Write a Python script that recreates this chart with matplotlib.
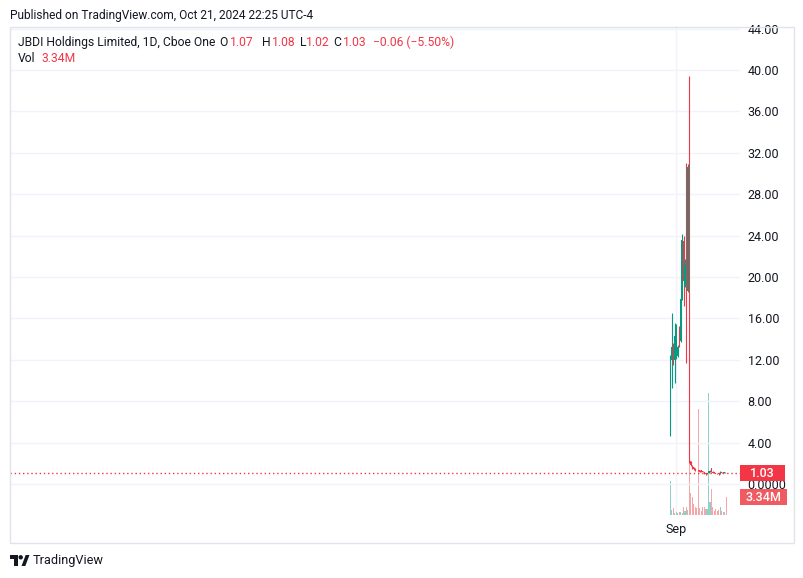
import matplotlib
matplotlib.use("Agg")
import matplotlib.pyplot as plt
from matplotlib.patches import Rectangle, Polygon, Circle
from matplotlib.ticker import FuncFormatter

plt.rcParams['font.family'] = ['Roboto', 'DejaVu Sans']

# ---------------- data (daily bars, Aug 27 - Oct 21, 2024) ----------------
dates = ["08-27", "08-28", "08-29", "08-30", "09-03", "09-04", "09-05", "09-06",
         "09-09", "09-10", "09-11", "09-12", "09-13", "09-16", "09-17", "09-18",
         "09-19", "09-20", "09-23", "09-24", "09-25", "09-26", "09-27", "09-30",
         "10-01", "10-02", "10-03", "10-04", "10-07", "10-08", "10-09", "10-10",
         "10-11", "10-14", "10-15", "10-16", "10-17", "10-18", "10-21"]
opens = [9.3, 12.0, 13.4, 12.0, 12.6, 12.4, 15.0, 13.8, 18.0, 23.5, 19.1, 30.8, 18.6,
         30.5, 2.2, 1.75, 1.6, 1.48, 1.36, 1.35, 1.35, 1.3, 1.22, 1.15, 1.05, 0.97,
         1.06, 1.2, 1.5, 1.2, 1.08, 1.06, 1.05, 1.03, 0.95, 1.12, 1.1, 1.08, 1.07]
highs = [12.5, 16.5, 13.6, 15.6, 15.5, 13.4, 15.3, 18.4, 24.2, 24.0, 21.7, 31.0, 30.9,
         39.4, 2.2, 1.8, 1.62, 1.5, 1.38, 1.36, 1.37, 1.32, 1.25, 1.2, 1.08, 1.1,
         1.29, 1.3, 1.58, 1.22, 1.12, 1.1, 1.08, 1.05, 1.22, 1.15, 1.12, 1.13, 1.08]
lows = [4.65, 9.3, 11.5, 9.8, 12.1, 12.3, 13.2, 13.7, 17.8, 17.2, 19.0, 11.7, 18.5,
        2.0, 1.75, 1.42, 1.35, 1.26, 1.3, 1.23, 1.16, 1.2, 1.12, 1.0, 0.9, 0.95,
        1.04, 1.15, 1.16, 1.05, 1.03, 1.02, 1.0, 0.9, 0.95, 1.05, 1.05, 1.06, 1.02]
closes = [12.4, 13.2, 11.9, 14.3, 13.3, 13.2, 13.5, 17.9, 23.6, 19.6, 21.2, 18.6, 30.6,
          2.25, 1.85, 1.5, 1.4, 1.3, 1.32, 1.25, 1.2, 1.22, 1.15, 1.05, 0.95, 1.05,
          1.25, 1.28, 1.2, 1.08, 1.06, 1.04, 1.03, 0.93, 1.15, 1.08, 1.09, 1.10, 1.03]
volumes_m = [6.3, 0.93, 1.3, 0.37, 0.56, 0.37, 0.56, 0.56, 0.4, 1.5, 0.7, 1.5, 0.9,
             19.3, 4.1, 3.3, 2.0, 1.5, 1.3, 19.7, 1.3, 0.75, 1.5, 1.5, 1.1, 1.1,
             22.6, 2.4, 4.8, 1.5, 0.75, 1.1, 0.75, 0.93, 1.5, 0.75, 0.56, 0.5, 3.34]
price_ticks = [0, 4, 8, 12, 16, 20, 24, 28, 32, 36, 40, 44]
month_label = "Sep"
month_index = 4   # first September bar

UP, DOWN = "#089981", "#F23645"
VOL_UP, VOL_DOWN = "#8FD1C9", "#F6A7AA"
TXT = "#131722"
GRID = "#F0F3FA"

W, H = 804, 578
fig = plt.figure(figsize=(W / 100, H / 100), dpi=100)
fig.patch.set_facecolor("white")

pane_l, pane_r, pane_t, pane_b = 10, 740, 26, 515
axv = fig.add_axes([pane_l / W, 1 - pane_b / H, (pane_r - pane_l) / W, (pane_b - pane_t) / H])
axp = axv.twinx()
axv.set_zorder(1)
axp.set_zorder(2)
axp.patch.set_visible(False)

n = len(closes)
xs = list(range(n))
spacing = 1.47          # pixels per bar
x0_px = 670.3           # pixel of first bar
axv.set_xlim(-(x0_px - pane_l) / spacing, (pane_r - x0_px) / spacing)
axp.set_ylim(-3.0, 44.25)
axv.set_ylim(0, 90.76)

# volume
vcols = [VOL_UP if c >= o else VOL_DOWN for o, c in zip(opens, closes)]
axv.bar(xs, volumes_m, width=0.75, color=vcols, linewidth=0, zorder=2)
axv.axvline(month_index, color=GRID, lw=1, zorder=0)

# candles
ccols = [UP if c >= o else DOWN for o, c in zip(opens, closes)]
axp.vlines(xs, lows, highs, colors=ccols, linewidth=0.8, zorder=3)
bottoms = [min(o, c) for o, c in zip(opens, closes)]
heights = [max(abs(c - o), 0.06) for o, c in zip(opens, closes)]
axp.bar(xs, heights, bottom=bottoms, width=0.8, color=ccols, linewidth=0, zorder=3)

# last price line
axp.axhline(closes[-1], color=DOWN, lw=1, ls=(0, (1, 2)), zorder=4)

# axes styling
axp.set_yticks(price_ticks)
axp.yaxis.set_major_formatter(FuncFormatter(lambda v, p: "0.0000" if v == 0 else f"{v:.2f}"))
axp.tick_params(axis="y", length=0, pad=5.5, labelsize=9, labelcolor=TXT)
axp.grid(axis="y", color=GRID, lw=1, zorder=0)
axp.set_axisbelow(True)
axv.set_yticks([])
axv.set_xticks([month_index])
axv.set_xticklabels([month_label])
axv.tick_params(axis="x", length=0, pad=6, labelsize=9, labelcolor=TXT)
for a in (axv, axp):
    for s in a.spines.values():
        s.set_visible(False)

# ---------------- overlay (pixel coords) ----------------
ov = fig.add_axes([0, 0, 1, 1], zorder=10)
ov.set_xlim(0, W)
ov.set_ylim(H, 0)
ov.axis("off")
ov.patch.set_visible(False)

ov.add_patch(Rectangle((10.5, 26.5), 784, 516, fill=False, edgecolor="#E0E3EB", lw=1))

ov.text(10, 15, "Published on TradingView.com, Oct 21, 2024 22:25 UTC-4",
        fontsize=8.6, color=TXT, va="center", ha="left")

FS = 8.7
ly = 42.5
ov.text(18, ly, "JBDI Holdings Limited, 1D, Cboe One", fontsize=FS, color=TXT, va="center")
legend_parts = [(219, "O", TXT), (229.5, f"{opens[-1]:.2f}", DOWN),
                (262, "H", TXT), (272, f"{highs[-1]:.2f}", DOWN),
                (300, "L", TXT), (306, f"{lows[-1]:.2f}", DOWN),
                (333, "C", TXT), (343, f"{closes[-1]:.2f}", DOWN),
                (373, "\u22120.06 (\u22125.50%)", DOWN)]
for x, s, c in legend_parts:
    ov.text(x, ly, s, fontsize=FS, color=c, va="center")
ov.text(18, 59, "Vol", fontsize=FS, color=TXT, va="center")
ov.text(42, 59, f"{volumes_m[-1]:.2f}M", fontsize=FS, color=DOWN, va="center")

# price label
fig.canvas.draw()
py = H - axp.transData.transform((0, closes[-1]))[1]
ov.add_patch(Rectangle((740, py - 8), 45, 16, color=DOWN, lw=0))
ov.text(762.5, py + 0.5, f"{closes[-1]:.2f}", fontsize=9, color="white", ha="center",
        va="center", fontweight="medium")
vy = H - axv.transData.transform((0, volumes_m[-1]))[1]
ov.add_patch(Rectangle((740, vy - 8), 47, 16, color="#F05A61", lw=0))
ov.text(763.5, vy + 0.5, f"{volumes_m[-1]:.2f}M", fontsize=9, color="white", ha="center",
        va="center", fontweight="medium")

# TradingView logo
ov.add_patch(Polygon([(10, 555), (18, 555), (18, 566), (14, 566), (14, 559), (10, 559)],
                     closed=True, color=TXT, lw=0))
ov.add_patch(Circle((20.7, 557.3), 2.2, color=TXT, lw=0))
ov.add_patch(Polygon([(21.5, 566), (25.3, 566), (29.5, 555), (25.7, 555)],
                     closed=True, color=TXT, lw=0))
ov.text(33, 560.5, "TradingView", fontsize=9.2, color=TXT, va="center")

fig.savefig("out.png", dpi=100)
